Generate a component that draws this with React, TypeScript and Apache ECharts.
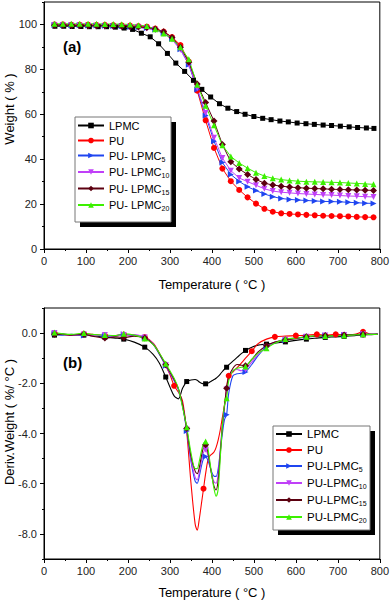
import React, { useEffect, useRef } from 'react';
import * as echarts from 'echarts';

// ---------- (a) TGA data ----------
const tgaT = [25, 45, 65, 85, 105, 125, 145, 165, 185, 205, 225, 245, 265, 285, 305, 325, 345, 365, 385, 405, 425, 445, 465, 485, 505, 525, 545, 565, 585, 605, 625, 645, 665, 685, 705, 725, 745, 765, 785];
const lpmcTgaT = [26, 47, 67, 88, 108, 129, 149, 170, 191, 211, 232, 253, 273, 294, 314, 335, 356, 376, 397, 418, 438, 459, 479, 500, 521, 541, 562, 582, 603, 624, 644, 665, 685, 706, 727, 747, 768, 786];
const lpmcTgaW = [99.2, 99.2, 99.1, 99.1, 99.0, 99.0, 99.0, 98.8, 98.4, 97.8, 96.1, 94.5, 91.4, 87.1, 82.8, 79.1, 75.1, 71.1, 67.7, 64.7, 62.7, 61.2, 60.0, 59.0, 58.2, 57.6, 57.0, 56.6, 56.1, 55.8, 55.5, 55.2, 55.0, 54.7, 54.4, 54.1, 53.9, 53.7];
const puTgaW = [100.0, 100.0, 99.9, 99.9, 99.9, 99.8, 99.8, 99.7, 99.6, 99.5, 99.3, 99.0, 98.2, 96.8, 94.4, 90.8, 83.5, 70.5, 57.3, 45.0, 35.8, 30.2, 26.3, 23.0, 20.2, 17.9, 16.6, 15.9, 15.6, 15.4, 15.2, 15.0, 14.8, 14.7, 14.6, 14.5, 14.3, 14.2, 14.1];
const pu5TgaW = [99.8, 99.7, 99.6, 99.6, 99.5, 99.5, 99.4, 99.3, 99.2, 99.0, 98.8, 98.4, 97.7, 96.2, 93.6, 89.0, 82.0, 71.0, 59.5, 48.0, 38.5, 33.2, 30.1, 27.7, 26.0, 24.5, 23.3, 22.5, 22.1, 21.8, 21.6, 21.4, 21.2, 21.1, 21.0, 20.8, 20.6, 20.4, 20.3];
const pu10TgaW = [99.6, 99.5, 99.4, 99.4, 99.3, 99.2, 99.1, 99.0, 98.9, 98.8, 98.6, 98.2, 97.5, 96.0, 93.3, 88.7, 82.2, 71.6, 60.6, 49.5, 40.5, 34.9, 31.6, 30.0, 28.4, 26.8, 25.8, 25.3, 25.0, 24.7, 24.5, 24.3, 24.1, 24.0, 23.8, 23.6, 23.5, 23.3, 23.2];
const pu15TgaW = [99.7, 99.6, 99.6, 99.5, 99.5, 99.4, 99.4, 99.3, 99.2, 99.1, 98.9, 98.6, 98.0, 96.8, 94.2, 89.8, 83.2, 73.5, 65.2, 57.0, 46.5, 38.9, 35.6, 33.2, 31.0, 29.3, 28.5, 28.0, 27.6, 27.3, 27.1, 26.9, 26.8, 26.6, 26.5, 26.4, 26.3, 26.2, 26.1];
const pu20TgaW = [100.3, 100.3, 100.3, 100.3, 100.3, 100.3, 100.2, 100.2, 100.1, 100.0, 99.7, 99.3, 97.9, 96.0, 93.6, 89.8, 84.5, 73.2, 63.8, 55.1, 46.2, 41.2, 38.3, 36.0, 34.0, 32.5, 31.5, 30.9, 30.5, 30.2, 30.0, 29.9, 29.8, 29.7, 29.6, 29.4, 29.2, 29.0, 28.8];

// ---------- (b) DTG data ----------
const dtgT = [25, 45, 65, 95, 115, 145, 170, 190, 215, 240, 260, 275, 290, 300, 310, 320, 330, 340, 350, 360, 365, 370, 375, 380, 385, 390, 395, 400, 405, 410, 415, 420, 425, 430, 435, 440, 450, 460, 470, 480, 495, 510, 530, 550, 575, 600, 625, 650, 670, 695, 715, 740, 760, 780, 795];
const lpmcD = [-0.08, -0.05, -0.06, -0.08, -0.10, -0.16, -0.20, -0.24, -0.36, -0.56, -0.85, -1.20, -1.75, -2.15, -2.50, -2.62, -2.20, -1.93, -1.87, -1.85, -1.88, -1.95, -2.00, -2.02, -2.02, -2.00, -1.95, -1.90, -1.85, -1.80, -1.72, -1.63, -1.53, -1.44, -1.36, -1.27, -1.12, -0.97, -0.82, -0.69, -0.56, -0.48, -0.44, -0.40, -0.35, -0.29, -0.24, -0.20, -0.17, -0.15, -0.13, -0.10, -0.07, -0.06, -0.05];
const puD = [0.00, -0.06, -0.08, -0.03, -0.05, -0.10, -0.10, -0.06, -0.08, -0.16, -0.40, -0.80, -1.30, -1.65, -2.10, -2.35, -2.70, -3.95, -5.95, -7.60, -7.85, -7.40, -6.80, -6.20, -5.60, -5.10, -4.90, -4.82, -4.74, -4.55, -4.25, -3.85, -3.35, -2.85, -2.20, -1.70, -1.55, -1.38, -1.20, -1.00, -0.72, -0.42, -0.24, -0.15, -0.12, -0.10, -0.09, -0.05, -0.08, -0.05, -0.07, -0.05, 0.05, -0.05, -0.05];
const pu5D = [-0.02, -0.08, -0.05, -0.10, -0.08, -0.12, -0.10, -0.05, -0.10, -0.20, -0.45, -0.85, -1.30, -1.60, -1.90, -2.25, -2.90, -3.90, -5.10, -5.90, -5.98, -5.70, -5.30, -5.00, -4.92, -5.05, -5.30, -5.55, -5.70, -5.71, -5.40, -4.70, -4.00, -3.45, -3.25, -2.40, -1.70, -1.62, -1.60, -1.55, -1.25, -0.90, -0.55, -0.38, -0.28, -0.20, -0.16, -0.12, -0.10, -0.10, -0.08, -0.06, -0.05, -0.05, -0.04];
const pu10D = [0.00, -0.05, -0.08, -0.06, -0.10, -0.08, -0.12, -0.08, -0.06, -0.18, -0.42, -0.82, -1.28, -1.58, -1.88, -2.22, -2.88, -3.85, -5.00, -5.75, -5.85, -5.55, -5.10, -4.75, -4.65, -4.85, -5.25, -5.65, -5.92, -5.98, -5.60, -4.60, -3.65, -2.95, -2.25, -1.80, -1.50, -1.45, -1.50, -1.45, -1.15, -0.85, -0.55, -0.36, -0.26, -0.19, -0.15, -0.12, -0.10, -0.09, -0.08, -0.06, -0.05, -0.04, -0.04];
const pu15D = [-0.05, -0.04, -0.08, -0.05, -0.12, -0.20, -0.15, -0.18, -0.12, -0.20, -0.44, -0.82, -1.26, -1.55, -1.85, -2.20, -2.85, -3.80, -4.90, -5.50, -5.60, -5.35, -4.90, -4.55, -4.45, -4.70, -5.20, -5.70, -6.10, -6.25, -5.85, -4.80, -3.70, -2.90, -2.20, -1.75, -1.40, -1.25, -1.28, -1.30, -1.05, -0.75, -0.50, -0.36, -0.27, -0.22, -0.15, -0.12, -0.10, -0.10, -0.08, -0.06, -0.05, -0.05, -0.04];
const pu20D = [0.02, -0.03, -0.05, 0.00, -0.05, -0.08, -0.10, -0.03, -0.08, -0.22, -0.45, -0.80, -1.22, -1.50, -1.80, -2.20, -2.95, -3.75, -4.75, -5.40, -5.40, -5.10, -4.70, -4.40, -4.32, -4.55, -5.10, -5.70, -6.20, -6.50, -6.20, -4.95, -3.70, -2.86, -2.60, -1.90, -1.50, -1.40, -1.36, -1.33, -1.05, -0.80, -0.60, -0.40, -0.24, -0.20, -0.15, -0.10, -0.12, -0.10, -0.10, -0.07, -0.05, -0.05, -0.05];
const dtgMarkT = [25, 95, 145, 190, 240, 290, 340, 385, 435, 480, 530, 575, 625, 670, 715, 760];
const puMarkT = [25, 95, 145, 190, 240, 310, 380, 440, 495, 550, 600, 650, 695, 760];

// ---------- axis ticks ----------
const yTopMajor = [0, 20, 40, 60, 80, 100];
const yTopMinor = [10, 30, 50, 70, 90, 110];
const yBotMajor = [-8, -6, -4, -2, 0];
const yBotMinor = [-9, -7, -5, -3, -1, 1];

const FONT = 'Liberation Sans, Arial, Helvetica, sans-serif';

const tgaSeriesDefs = [
  { name: 'LPMC', t: lpmcTgaT, v: lpmcTgaW, color: '#000000', symbol: 'rect', rot: 0, size: 5 },
  { name: 'PU', t: tgaT, v: puTgaW, color: '#ff0000', symbol: 'circle', rot: 0, size: 6 },
  { name: 'PU- LPMC5', t: tgaT, v: pu5TgaW, color: '#1f45f0', symbol: 'triangle', rot: -90, size: 6 },
  { name: 'PU- LPMC10', t: tgaT, v: pu10TgaW, color: '#c040f8', symbol: 'triangle', rot: 180, size: 6 },
  { name: 'PU- LPMC15', t: tgaT, v: pu15TgaW, color: '#5c0010', symbol: 'diamond', rot: 0, size: 7 },
  { name: 'PU- LPMC20', t: tgaT, v: pu20TgaW, color: '#3cf000', symbol: 'triangle', rot: 0, size: 6 },
];

const dtgSeriesDefs = [
  { name: 'LPMC', v: lpmcD, marks: dtgMarkT, color: '#000000', symbol: 'rect', rot: 0, size: 5 },
  { name: 'PU', v: puD, marks: puMarkT, color: '#ff0000', symbol: 'circle', rot: 0, size: 6 },
  { name: 'PU-LPMC5', v: pu5D, marks: dtgMarkT, color: '#1f45f0', symbol: 'triangle', rot: -90, size: 6 },
  { name: 'PU-LPMC10', v: pu10D, marks: dtgMarkT, color: '#c040f8', symbol: 'triangle', rot: 180, size: 6 },
  { name: 'PU-LPMC15', v: pu15D, marks: dtgMarkT, color: '#5c0010', symbol: 'diamond', rot: 0, size: 7 },
  { name: 'PU-LPMC20', v: pu20D, marks: dtgMarkT, color: '#3cf000', symbol: 'triangle', rot: 0, size: 6 },
];

const legendFormatter = (name: string) => {
  const m = name.match(/^(.*LPMC)(\d+)$/);
  return m ? `${m[1]}{s|${m[2]}}` : name;
};

const legendText = (fs: number) => ({
  fontSize: fs,
  color: '#000',
  fontFamily: FONT,
  rich: { s: { fontSize: 7, fontFamily: FONT, color: '#000', padding: [7, 0, 0, 0] } },
});

function xAxisDef(gridIndex: number, nameGap: number) {
  return {
    type: 'value', gridIndex, min: 0, max: 800, interval: 100,
    name: 'Temperature ( °C )', nameLocation: 'middle', nameGap,
    nameTextStyle: { fontSize: 13, color: '#000', fontFamily: FONT },
    axisLine: { show: true, onZero: false, lineStyle: { color: '#000', width: 1 } },
    axisTick: { show: true, inside: false, length: 4, lineStyle: { color: '#000' } },
    minorTick: { show: true, splitNumber: 2, length: 2, lineStyle: { color: '#000' } },
    axisLabel: { fontSize: 11, color: '#222', fontFamily: FONT, margin: 6 },
    splitLine: { show: false },
    minorSplitLine: { show: false },
  };
}

function buildOption() {
  const series: any[] = [];
  tgaSeriesDefs.forEach((s) => {
    series.push({
      type: 'line', name: s.name, xAxisIndex: 0, yAxisIndex: 0,
      data: s.t.map((t, i) => [t, s.v[i]]),
      symbol: s.symbol, symbolSize: s.size, symbolRotate: s.rot,
      lineStyle: { color: s.color, width: 1 },
      itemStyle: { color: s.color },
      showAllSymbol: true,
    });
  });
  dtgSeriesDefs.forEach((s) => {
    series.push({
      type: 'line', name: s.name, xAxisIndex: 1, yAxisIndex: 2,
      smooth: 0.3,
      data: dtgT.map((t, i) => ({ value: [t, s.v[i]], symbol: s.marks.includes(t) ? s.symbol : 'none' })),
      symbol: s.symbol, symbolSize: s.size, symbolRotate: s.rot,
      lineStyle: { color: s.color, width: 1.1 },
      itemStyle: { color: s.color },
      showAllSymbol: true,
    });
  });

  return {
    animation: false,
    backgroundColor: '#fff',
    textStyle: { fontFamily: FONT },
    grid: [
      { left: 44, top: 2, width: 337, height: 247, show: true, borderColor: '#000', borderWidth: 1 },
      { left: 44, top: 308, width: 337, height: 251, show: true, borderColor: '#000', borderWidth: 1 },
    ],
    xAxis: [xAxisDef(0, 29), xAxisDef(1, 27)],
    yAxis: [
      {
        type: 'value', gridIndex: 0, min: 0, max: 110,
        axisLine: { show: true, onZero: false, lineStyle: { color: '#000', width: 1 } },
        axisTick: { show: true, inside: false, length: 4, customValues: yTopMajor, lineStyle: { color: '#000' } },
        axisLabel: { customValues: yTopMajor, fontSize: 11, color: '#222', fontFamily: FONT, margin: 7 },
        splitLine: { show: false },
      },
      {
        type: 'value', gridIndex: 0, min: 0, max: 110, position: 'left',
        axisLine: { show: false },
        axisTick: { show: true, inside: false, length: 2, customValues: yTopMinor, lineStyle: { color: '#000' } },
        axisLabel: { show: false },
        splitLine: { show: false },
      },
      {
        type: 'value', gridIndex: 1, min: -9, max: 1,
        axisLine: { show: true, onZero: false, lineStyle: { color: '#000', width: 1 } },
        axisTick: { show: true, inside: false, length: 4, customValues: yBotMajor, lineStyle: { color: '#000' } },
        axisLabel: {
          customValues: yBotMajor, fontSize: 11, color: '#222', fontFamily: FONT, margin: 7,
          formatter: (v: number) => v.toFixed(1),
        },
        splitLine: { show: false },
      },
      {
        type: 'value', gridIndex: 1, min: -9, max: 1, position: 'left',
        axisLine: { show: false },
        axisTick: { show: true, inside: false, length: 2, customValues: yBotMinor, lineStyle: { color: '#000' } },
        axisLabel: { show: false },
        splitLine: { show: false },
      },
    ],
    legend: [
      {
        orient: 'vertical', left: 77, top: 120, padding: 0, itemGap: 4,
        itemWidth: 26, itemHeight: 7,
        data: tgaSeriesDefs.map((s) => s.name),
        formatter: legendFormatter, textStyle: legendText(11),
        selectedMode: false,
      },
      {
        orient: 'vertical', left: 275, top: 428, padding: 0, itemGap: 4,
        itemWidth: 26, itemHeight: 7,
        data: dtgSeriesDefs.map((s) => s.name),
        formatter: legendFormatter, textStyle: legendText(11.5),
        selectedMode: false,
      },
    ],
    graphic: [
      { type: 'rect', z: 1, shape: { x: 80, y: 122, width: 96, height: 105 }, style: { fill: '#000' } },
      { type: 'rect', z: 2, shape: { x: 75, y: 117, width: 96, height: 105 }, style: { fill: '#fff', stroke: '#777', lineWidth: 1 } },
      { type: 'rect', z: 1, shape: { x: 278, y: 431, width: 97, height: 104 }, style: { fill: '#000' } },
      { type: 'rect', z: 2, shape: { x: 273, y: 426, width: 97, height: 104 }, style: { fill: '#fff', stroke: '#777', lineWidth: 1 } },
      { type: 'text', z: 5, x: 63, y: 46, style: { text: '(a)', font: `bold 15px ${FONT}`, fill: '#000', textVerticalAlign: 'middle' } },
      { type: 'text', z: 5, x: 63, y: 362, style: { text: '(b)', font: `bold 15px ${FONT}`, fill: '#000', textVerticalAlign: 'middle' } },
      { type: 'text', z: 5, x: 9, y: 109, rotation: Math.PI / 2, style: { text: 'Weight ( % )', font: `13px ${FONT}`, fill: '#000', textAlign: 'center', textVerticalAlign: 'middle' } },
      { type: 'text', z: 5, x: 9, y: 422, rotation: Math.PI / 2, style: { text: 'Deriv.Weight ( %/ °C )', font: `13px ${FONT}`, fill: '#000', textAlign: 'center', textVerticalAlign: 'middle' } },
    ],
    series,
  };
}

export default function App() {
  const ref = useRef<HTMLDivElement>(null);
  useEffect(() => {
    if (!ref.current) return;
    const chart = echarts.init(ref.current, null, { renderer: 'svg' });
    chart.setOption(buildOption() as any);
    return () => chart.dispose();
  }, []);
  return <div ref={ref} style={{ position: 'fixed', left: 0, top: 0, width: 392, height: 601 }} />;
}
